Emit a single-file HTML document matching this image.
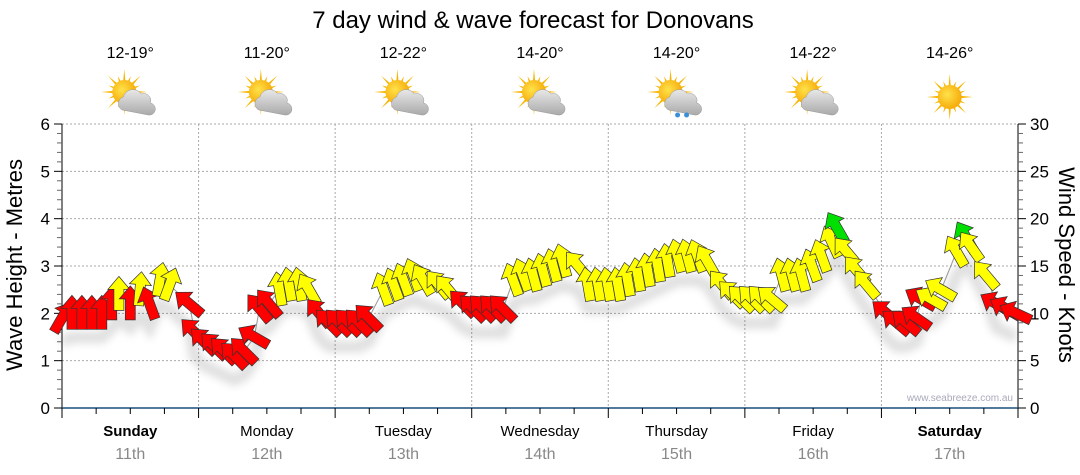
<!DOCTYPE html>
<html><head><meta charset="utf-8"><style>
body{margin:0;background:#fff;}
svg{display:block;font-family:"Liberation Sans","DejaVu Sans",sans-serif;}
</style></head><body>
<svg id="chart" width="1080" height="475" viewBox="0 0 1080 475" xmlns="http://www.w3.org/2000/svg">
<defs>
<radialGradient id="sunG" cx="0.4" cy="0.4" r="0.7"><stop offset="0" stop-color="#ffe24a"/><stop offset="1" stop-color="#f5a300"/></radialGradient>
<linearGradient id="cloudG" x1="0" y1="0" x2="0" y2="1"><stop offset="0" stop-color="#e8e8e8"/><stop offset="1" stop-color="#a9a9a9"/></linearGradient>
<filter id="shadow" x="-50%" y="-50%" width="200%" height="200%"><feGaussianBlur stdDeviation="4"/></filter>
</defs>
<text x="533" y="28" font-size="24" text-anchor="middle" fill="#000">7 day wind &amp; wave forecast for Donovans</text>
<g id="grid"></g>
<g id="axes"></g>
<g id="icons"></g>
<g id="series"></g>
<text transform="translate(22,265) rotate(-90)" font-size="22" text-anchor="middle">Wave Height - Metres</text>
<text transform="translate(1059,265) rotate(90)" font-size="22" text-anchor="middle">Wind Speed - Knots</text>
<text x="1013" y="401" font-size="10" text-anchor="end" fill="#aab">www.seabreeze.com.au</text>
</svg>
<script>
const dayNames = ["Sunday","Monday","Tuesday","Wednesday","Thursday","Friday","Saturday"];
const dayDates = ["11th","12th","13th","14th","15th","16th","17th"];
const boldDays = [true,false,false,false,false,false,true];
const temps = ["12-19°","11-20°","12-22°","14-20°","14-20°","14-22°","14-26°"];
const weather = ["cloud","cloud","cloud","cloud","rain","cloud","sun"];
const waveTicks = [0,1,2,3,4,5,6];
const windTicks = [0,5,10,15,20,25,30];
const hours = [0,1.75,3.5,5.25,7,8.75,10,12,13.7,15.4,17.2,18.9,22.4,
 23.3,25,26.8,28.5,30.3,32,33.8,34.7,36.4,38.2,39.9,41.7,43.4,
 45.2,46.9,48.7,50.4,52.2,53.9,56.5,58.3,60,61.8,63.5,66.2,67.9,
 70.5,72.3,74,75.8,77.5,79.3,81,82.8,84.5,86.3,88,90.7,
 92.4,94.2,95.9,97.7,99.4,101.2,102.9,104.7,106.4,108.2,109.9,111.7,113.4,
 116,117.8,119.5,121.3,123,124.8,
 126.5,128.3,130,131.8,133.5,135.3,136.2,137.9,139.7,141.4,
 144.9,146.7,148.4,150.2,151,152.8,154.5,157.2,158.9,159.8,162.4,164.2,165.9,167.7];
const waveHeights = [1.9,2.0,2.0,2.0,2.0,2.2,2.4,2.2,2.5,2.2,2.7,2.6,2.2,
 1.6,1.4,1.3,1.2,1.1,1.2,1.5,2.1,2.2,2.5,2.6,2.6,2.5,
 2.0,1.8,1.8,1.8,1.8,1.9,2.5,2.6,2.7,2.8,2.7,2.6,2.5,
 2.2,2.1,2.1,2.1,2.1,2.7,2.8,2.8,2.9,3.0,3.1,3.0,
 2.6,2.6,2.6,2.6,2.7,2.8,2.9,3.0,3.1,3.2,3.2,3.2,3.1,
 2.6,2.4,2.3,2.3,2.3,2.3,
 2.8,2.8,2.8,3.0,3.2,3.5,3.8,3.3,2.9,2.6,
 2.0,1.8,1.8,1.9,2.3,2.3,2.5,3.3,3.6,3.4,2.8,2.2,2.1,2.0];
const windDirs = [30,0,0,0,0,0,0,0,5,-20,10,20,-50,
 -45,-45,-45,-45,-45,-45,-60,-40,-40,-10,-10,-10,-30,
 -40,-45,-45,-45,-45,-45,-20,-20,-20,-20,-30,-40,-40,
 -45,-45,-45,-45,-45,-20,-20,-15,-15,-15,-15,-40,
 -10,-10,-10,-10,-10,-10,-10,-10,-10,-15,-15,-20,-30,
 -40,-45,-45,-45,-45,-50,
 -15,-15,-15,-20,-20,-25,-30,-40,-40,-40,
 -50,-50,-50,-55,-60,-60,-60,-30,-30,-35,-40,-60,-60,-65];
const windSpeeds = [9,9,9,9,9,10,13,10,13,10,13,13,10,
 10,10,10,10,10,10,10,10,10,13,13,13,13,
 10,10,10,10,10,10,13,13,13,13,13,13,13,
 10,10,10,10,10,13,13,13,13,13,13,13,
 13,13,13,13,13,13,13,13,13,13,13,13,13,
 13,13,13,13,13,13,
 13,13,13,13,13,13,18,14,14,14,
 10,10,10,10,10,13,13,14,18,14,14,10,10,10];

const NS="http://www.w3.org/2000/svg";
const X0=62,X1=1018,Y0=408,Y1=124;
const xScale=h=>X0+(X1-X0)*h/168;
const yWave=v=>Y0-(Y0-Y1)*v/6;
const yWind=v=>Y0-(Y0-Y1)*v/30;
function mk(tag,attrs,parent){const e=document.createElementNS(NS,tag);for(const k in attrs)e.setAttribute(k,attrs[k]);parent.appendChild(e);return e;}
const grid=document.getElementById('grid'),axes=document.getElementById('axes'),icons=document.getElementById('icons'),series=document.getElementById('series');

waveTicks.forEach(t=>{if(t>0){const l=mk('line',{x1:X0,x2:X1,y1:yWave(t),y2:yWave(t),stroke:'#aaa','stroke-dasharray':'2,2'},grid);

}});
for(let d=1;d<7;d++){const x=xScale(d*24);const l=mk('line',{x1:x,x2:x,y1:Y1,y2:Y0,stroke:'#aaa','stroke-dasharray':'2,2'},grid);

}

mk('line',{x1:X0,x2:X0,y1:Y1,y2:Y0,stroke:'#000'},axes);
for(let i=0;i<=30;i++){const v=i*0.2;const y=yWave(v);const major=i%5===0;mk('line',{x1:major?X0-8:X0-5,x2:X0,y1:y,y2:y,stroke:major?'#000':'#666'},axes);}
waveTicks.forEach(t=>{const e=mk('text',{x:X0-12,y:yWave(t)+6,'font-size':17,'text-anchor':'end'},axes);e.textContent=t;

});
mk('line',{x1:X1,x2:X1,y1:Y1,y2:Y0,stroke:'#000'},axes);
for(let i=0;i<=30;i++){const y=yWind(i);const major=i%5===0;mk('line',{x1:X1,x2:major?X1+8:X1+5,y1:y,y2:y,stroke:major?'#000':'#666'},axes);}
windTicks.forEach(t=>{const e=mk('text',{x:X1+12,y:yWind(t)+6,'font-size':17},axes);e.textContent=t;

});
mk('line',{x1:X0,x2:X1,y1:Y0,y2:Y0,stroke:'#1a4e7a','stroke-width':1.5},axes);
for(let i=0;i<=28;i++){const x=xScale(i*6);mk('line',{x1:x,x2:x,y1:Y0,y2:Y0+(i%4===0?10:6),stroke:'#000'},axes);}
dayNames.forEach((n,i)=>{const cx=xScale(i*24+12);
const t=mk('text',{x:cx,y:436,'font-size':15,'text-anchor':'middle','font-weight':boldDays[i]?'bold':'normal'},axes);t.textContent=n;


const d=mk('text',{x:cx,y:459,'font-size':16,'text-anchor':'middle',fill:'#888'},axes);d.textContent=dayDates[i];


const tt=mk('text',{x:cx,y:58,'font-size':16,'text-anchor':'middle'},icons);tt.textContent=temps[i];


const g=mk('g',{},icons);


const sx=weather[i]==='sun'?cx:cx-6, sy=weather[i]==='sun'?97:92;
for(let r=0;r<16;r++){const a=r*Math.PI/8;const L=r%2?17:23;
mk('polygon',{points:`${sx+Math.cos(a-0.12)*10},${sy+Math.sin(a-0.12)*10} ${sx+Math.cos(a)*L},${sy+Math.sin(a)*L} ${sx+Math.cos(a+0.12)*10},${sy+Math.sin(a+0.12)*10}`,fill:'#f7b500'},g);}
mk('circle',{cx:sx,cy:sy,r:12,fill:'url(#sunG)'},g);
if(weather[i]!=='sun'){
 const c=cx+6,cy=102;
 mk('path',{d:`M${c-14},${cy+8} a7,7 0 0 1 1,-13 a10,10 0 0 1 18,-3 a7,7 0 0 1 9,9 a6,6 0 0 1 -2,12 z`,fill:'url(#cloudG)',stroke:'#999','stroke-width':0.5},g);
 if(weather[i]==='rain'){mk('circle',{cx:c-5,cy:cy+13,r:2.5,fill:'#3a8fd8'},g);mk('circle',{cx:c+4,cy:cy+13,r:2.5,fill:'#3a8fd8'},g);}
}
});

const colorFor=s=>s<12?'#ff0000':(s<17?'#ffff00':'#00e000');
let pts=hours.map((h,i)=>`${xScale(h)},${yWave(waveHeights[i])}`).join(' ');
const line=mk('polyline',{points:pts,fill:'none',stroke:'#999','stroke-width':1},series);


const shp=mk('polyline',{points:hours.map((h,i)=>`${xScale(h)},${yWave(waveHeights[i])+24}`).join(' '),fill:'none',stroke:'#000','stroke-opacity':0.12,'stroke-width':12,filter:'url(#shadow)'},series);


const arrowPts="0,-18 11,-5 5,-5 5,16 -5,16 -5,-5 -11,-5";
hours.forEach((h,i)=>{
 const a=mk('polygon',{points:arrowPts,fill:colorFor(windSpeeds[i]),stroke:'#333','stroke-width':0.7,
 transform:`translate(${xScale(h)},${yWave(waveHeights[i])}) rotate(${windDirs[i]})`},series);
 
 
});
</script>
</body></html>
